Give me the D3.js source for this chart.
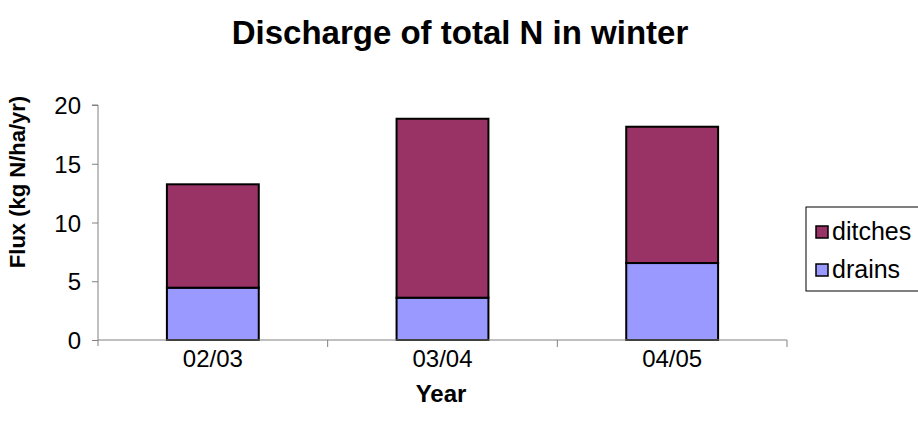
<!DOCTYPE html>
<html>
<head>
<meta charset="utf-8">
<script src="https://cdn.jsdelivr.net/npm/d3@7"></script>
<style>
  body { margin: 0; background: #fff; }
  svg { display: block; font-family: "Liberation Sans", Arial, sans-serif; }
</style>
</head>
<body>
<svg id="chart" width="918" height="430"></svg>
<script>
// Winter discharge of total N, stacked by source
const years = ["02/03", "03/04", "04/05"];
const drains = [4.45, 3.6, 6.55];
const ditches = [8.8, 15.23, 11.6];
const seriesNames = ["drains", "ditches"];
const seriesColors = ["#9999ff", "#993366"];
const yTicks = [0, 5, 10, 15, 20];

const rows = years.map((y, i) => ({ year: y, drains: drains[i], ditches: ditches[i] }));

const svg = d3.select("#chart");
const margin = { left: 98, right: 131, top: 105, bottom: 90 };
const W = 918, H = 430;

const x = d3.scaleBand().domain(years)
  .range([margin.left, W - margin.right])
  .paddingInner(0.6).paddingOuter(0.3);
const y = d3.scaleLinear().domain([0, 20]).range([H - margin.bottom, margin.top]);

const stack = d3.stack().keys(seriesNames)(rows);

// bars
svg.append("g").selectAll("g").data(stack).join("g")
  .attr("fill", (d, i) => seriesColors[i])
  .selectAll("rect").data(d => d).join("rect")
  .attr("x", d => x(d.data.year))
  .attr("y", d => y(d[1]))
  .attr("width", x.bandwidth())
  .attr("height", d => y(d[0]) - y(d[1]))
  .attr("stroke", "#000")
  .attr("stroke-width", 2);

// y axis
const yAxis = svg.append("g")
  .attr("transform", `translate(${margin.left},0)`)
  .call(d3.axisLeft(y).tickValues(yTicks).tickSize(6).tickPadding(11));
yAxis.select(".domain").attr("stroke", "#808080").attr("d", `M-6,${y(20)}H0V${y(0)+6}`);
yAxis.selectAll(".tick line").attr("stroke", "#808080");
yAxis.selectAll("text").attr("font-size", 24).attr("fill", "#000")
  .attr("dy", "0.36em")
  .attr("font-family", "Liberation Sans, Arial, sans-serif");

// x axis with ticks between categories
const xAxisG = svg.append("g").attr("transform", `translate(0,${y(0)})`);
const x0 = margin.left, x1 = W - margin.right;
xAxisG.append("line").attr("x1", x0).attr("x2", x1).attr("stroke", "#808080");
const boundaries = d3.range(years.length + 1).map(i => x0 + (x1 - x0) * i / years.length);
xAxisG.selectAll("line.tk").data(boundaries.slice(1)).join("line")
  .attr("class", "tk")
  .attr("x1", d => d).attr("x2", d => d).attr("y1", 0).attr("y2", 7)
  .attr("stroke", "#808080");
xAxisG.selectAll("text").data(years).join("text")
  .attr("x", d => x(d) + x.bandwidth() / 2)
  .attr("y", 27)
  .attr("text-anchor", "middle")
  .attr("font-size", 24)
  .text(d => d);

// title and axis labels
svg.append("text").attr("x", 460).attr("y", 44).attr("text-anchor", "middle")
  .attr("font-size", 33).attr("font-weight", "bold").text("Discharge of total N in winter");
svg.append("text").attr("x", 441).attr("y", 402).attr("text-anchor", "middle")
  .attr("font-size", 24).attr("font-weight", "bold").text("Year");
svg.append("text").attr("transform", `translate(25,182) rotate(-90)`)
  .attr("text-anchor", "middle").attr("font-size", 22).attr("font-weight", "bold")
  .text("Flux (kg N/ha/yr)");

// legend
const lg = svg.append("g").attr("transform", "translate(806,207)");
lg.append("rect").attr("width", 130).attr("height", 84)
  .attr("fill", "#fff").attr("stroke", "#000").attr("stroke-width", 1);
const legendItems = [
  { name: "ditches", color: seriesColors[1] },
  { name: "drains", color: seriesColors[0] }
];
const li = lg.selectAll("g.item").data(legendItems).join("g")
  .attr("class", "item")
  .attr("transform", (d, i) => `translate(10,${25 + i * 38})`);
li.append("rect").attr("x", 0).attr("y", -6).attr("width", 12).attr("height", 12)
  .attr("fill", d => d.color).attr("stroke", "#000").attr("stroke-width", 1.5);
li.append("text").attr("x", 16).attr("y", 8).attr("font-size", 25).text(d => d.name);
</script>
</body>
</html>
